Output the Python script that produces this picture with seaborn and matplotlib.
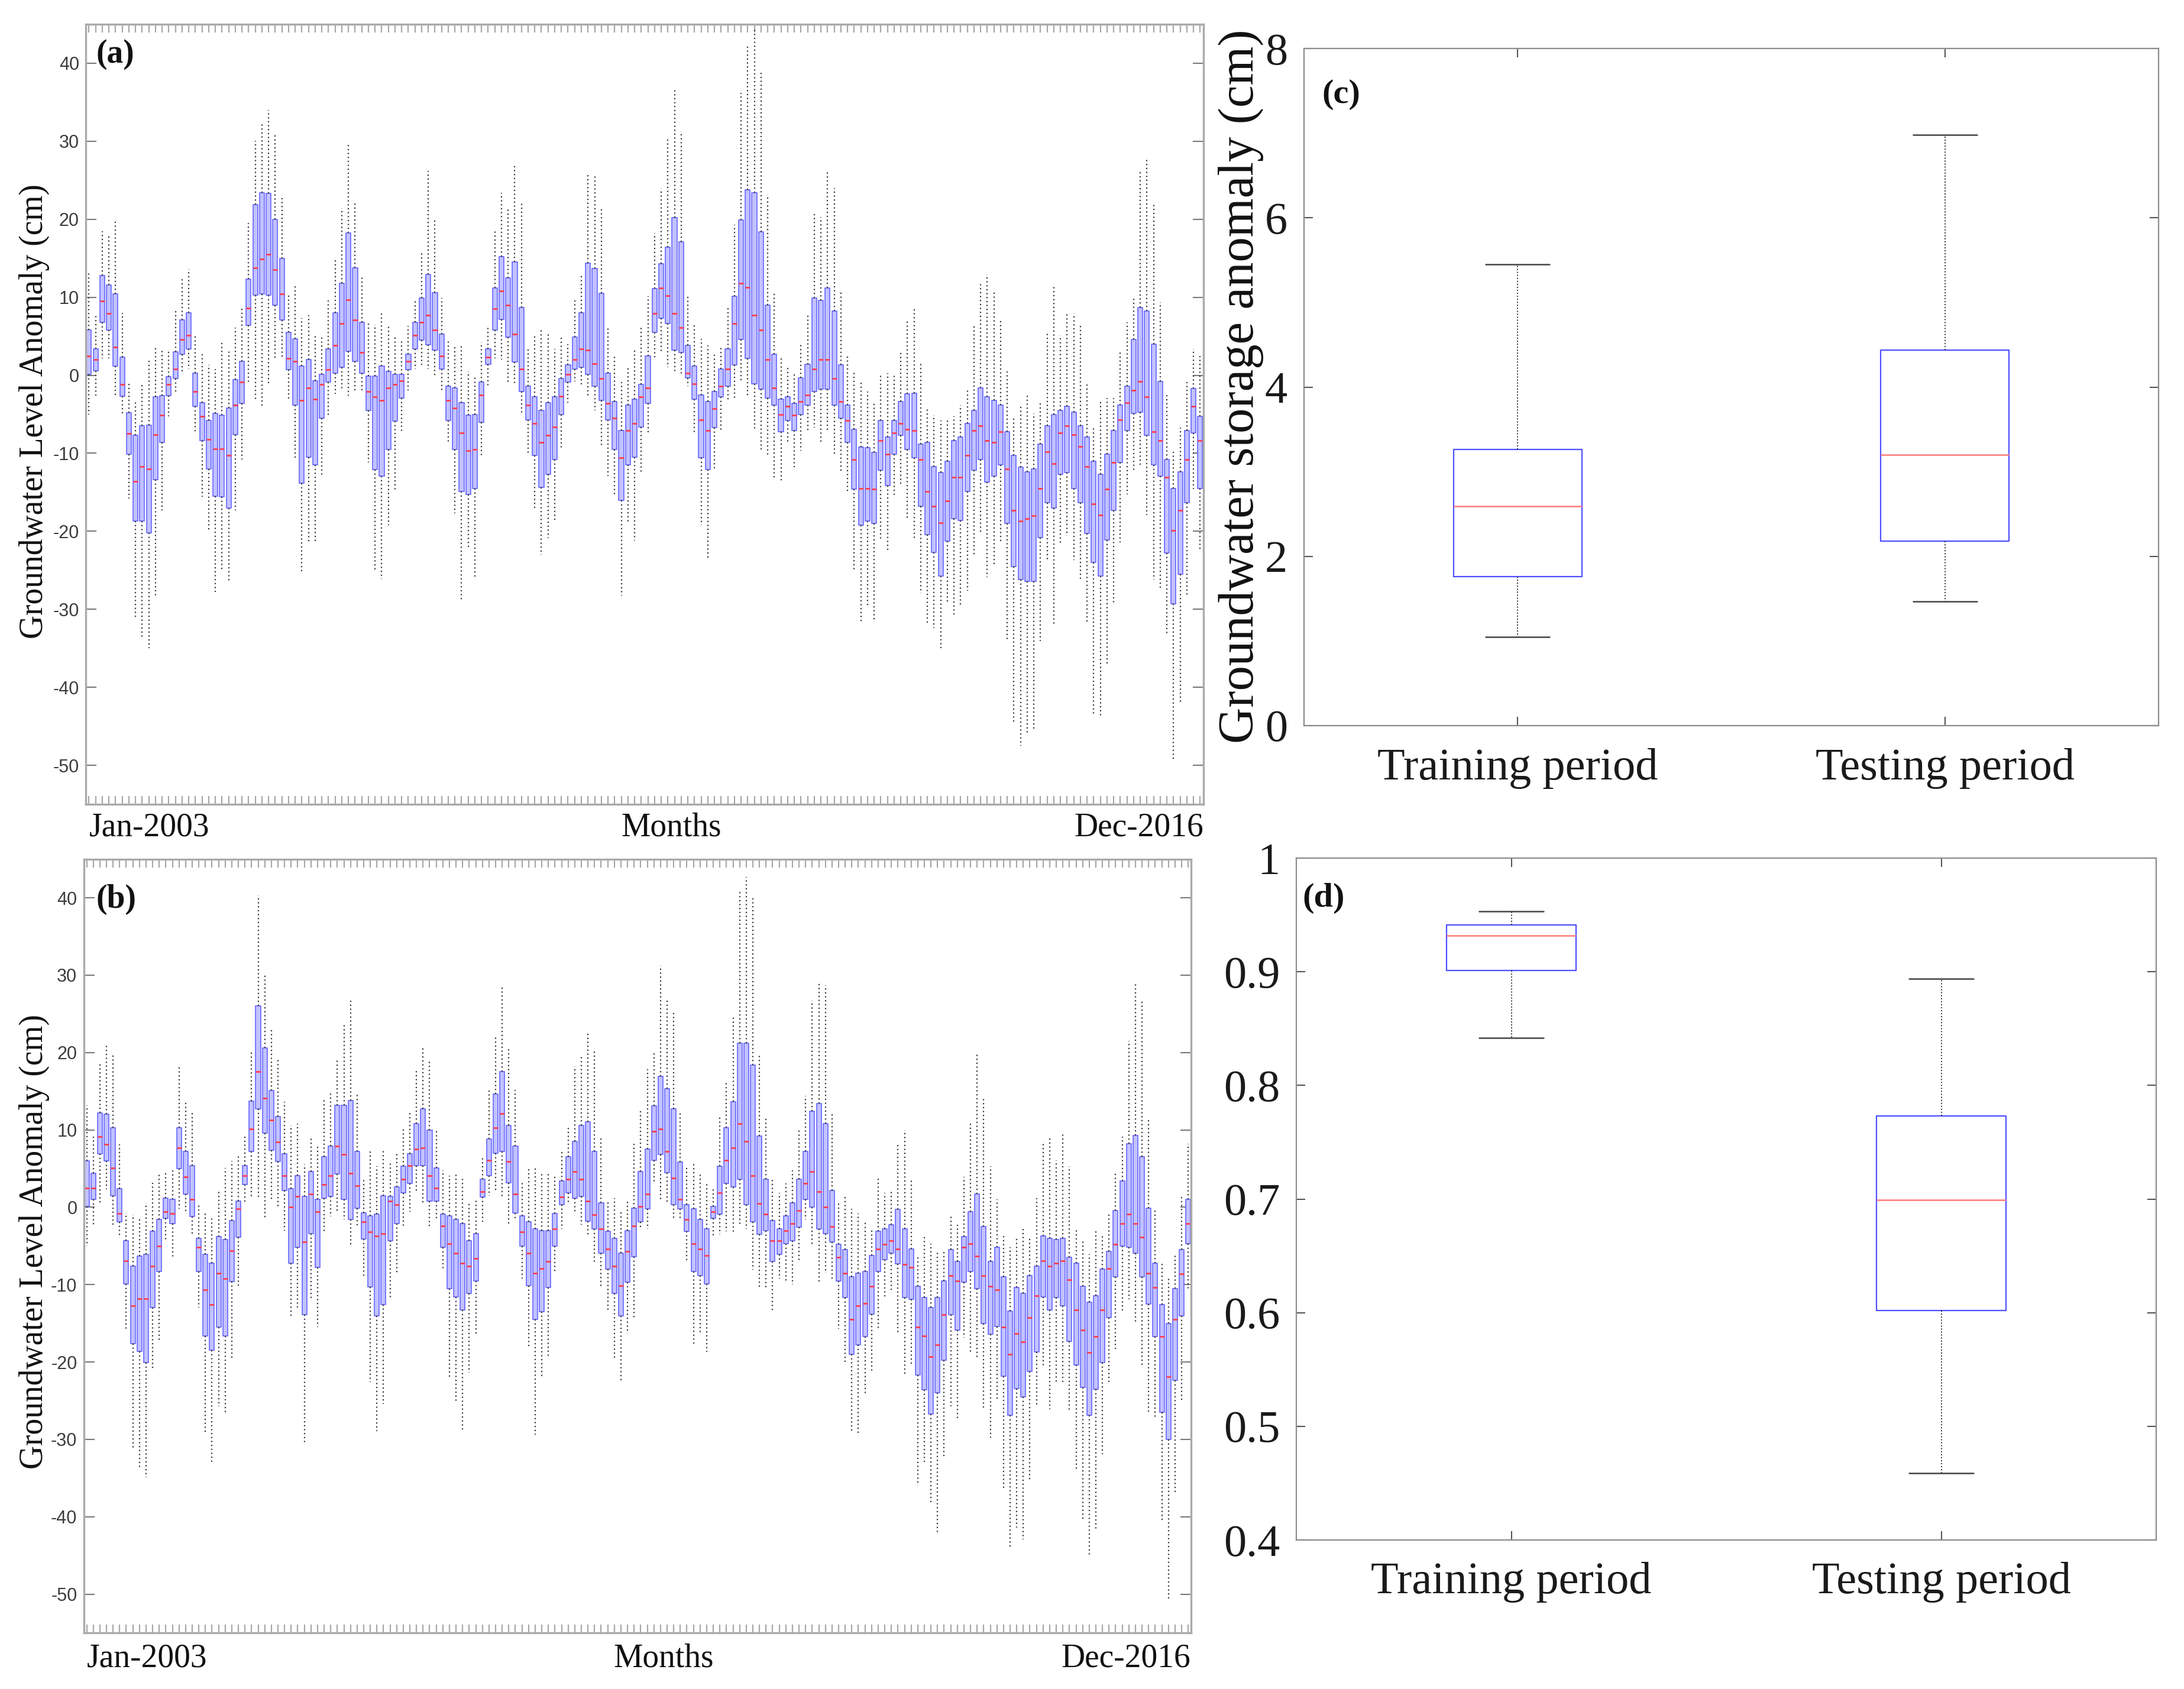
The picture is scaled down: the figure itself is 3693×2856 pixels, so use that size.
import numpy as np
import pandas as pd
import matplotlib
matplotlib.use("Agg")
import matplotlib.pyplot as plt
import seaborn as sns

sns.set_theme(style="white")
plt.rcParams["font.family"] = ["Liberation Serif", "DejaVu Serif"]
plt.rcParams["axes.unicode_minus"] = False

# ---------------- data: panel (a) monthly box statistics (Jan-2003 .. Dec-2016)
a_whi = [13.2, 7.7, 18.5, 17.9, 19.8, 8.0, -0.8, -3.4, -1.2, 2.2, 3.6, 3.4,
         3.2, 8.5, 12.5, 13.6, 5.3, 2.7, 1.3, 0.8, 4.4, 3.2, 6.1, 8.7,
         19.5, 30.1, 32.3, 34.0, 31.0, 22.7, 10.3, 11.6, 7.3, 7.7, 5.1, 5.1,
         9.6, 15.0, 21.4, 29.8, 22.3, 12.7, 6.6, 6.5, 8.2, 6.3, 4.9, 4.7,
         6.3, 9.6, 15.9, 26.2, 20.0, 9.9, 4.4, 3.8, 3.9, 0.5, -0.1, 4.2,
         6.1, 18.6, 23.4, 21.4, 27.0, 22.2, 3.4, 5.1, 5.8, 5.4, 3.4, 5.1,
         4.0, 9.6, 12.9, 26.0, 25.5, 21.5, 6.1, 2.4, -0.9, 1.0, 3.4, 6.3,
         10.1, 18.2, 23.9, 30.5, 36.9, 31.3, 10.1, 6.4, 4.7, 3.8, 2.9, 3.6,
         8.7, 19.3, 36.2, 42.3, 44.5, 39.0, 23.2, 10.5, 2.2, 1.0, 0.3, 4.2,
         7.8, 20.7, 20.3, 26.3, 24.0, 10.8, 2.5, 0.5, -0.9, -2.1, -3.6, 0.1,
         0.3, 0.3, 3.0, 7.2, 8.6, 1.8, -4.3, -5.1, -5.8, -5.7, -5.3, -3.8,
         -1.6, 6.5, 11.8, 12.9, 10.8, 7.0, 0.5, -5.3, -3.8, -2.6, -4.9, -3.3,
         5.5, 11.6, 5.1, 8.0, 7.9, 6.5, -0.9, -6.7, -3.3, -2.9, -2.9, 2.9,
         6.8, 10.1, 26.2, 27.7, 22.1, 9.4, -2.3, -9.8, -6.7, -0.9, 3.4, 2.5]
a_q3 = [5.8, 3.4, 12.8, 11.6, 10.4, 2.3, -4.8, -7.7, -6.5, -6.4, -2.8, -2.6,
        -0.2, 3.0, 7.1, 8.0, 0.3, -3.5, -5.8, -4.9, -5.1, -4.2, -0.6, 1.8,
        12.3, 21.9, 23.4, 23.3, 20.0, 15.0, 5.5, 4.7, 1.2, 2.0, -0.7, 0.1,
        3.4, 8.0, 11.8, 18.2, 13.8, 6.8, -0.1, -0.1, 1.2, 0.5, 0.1, 0.1,
        2.7, 6.8, 9.9, 12.9, 10.6, 5.3, -1.4, -1.6, -3.5, -5.1, -5.0, -0.9,
        3.4, 11.2, 15.2, 12.5, 14.5, 8.7, -1.4, -2.8, -4.5, -3.5, -2.8, -0.4,
        1.3, 4.9, 8.0, 14.4, 13.7, 10.5, 0.3, -3.4, -7.1, -3.8, -3.1, -1.2,
        2.5, 11.1, 14.3, 16.4, 20.2, 17.1, 3.8, 1.2, -2.5, -3.4, -2.1, 0.8,
        3.4, 10.1, 19.9, 23.8, 23.4, 18.4, 9.0, 2.7, -3.1, -2.8, -3.6, -0.3,
        1.4, 9.9, 9.6, 11.2, 8.2, 1.3, -3.8, -6.9, -9.2, -9.3, -9.9, -5.8,
        -7.9, -5.8, -3.4, -2.4, -2.3, -8.8, -8.6, -11.7, -12.5, -11.0, -8.4, -7.9,
        -6.2, -4.5, -1.6, -2.8, -3.2, -3.8, -7.2, -10.3, -11.8, -12.4, -12.0, -8.8,
        -6.5, -5.0, -4.5, -4.0, -4.7, -6.5, -7.9, -11.0, -12.7, -10.1, -7.1, -3.8,
        -1.4, 4.6, 8.7, 8.2, 4.0, -0.8, -10.8, -14.5, -12.4, -7.1, -1.7, -5.3]
a_med = [2.5, 2.0, 9.5, 7.9, 3.6, -1.2, -7.5, -13.6, -11.7, -12.0, -7.6, -5.1,
         -1.2, 0.8, 4.6, 5.1, -2.1, -5.3, -8.2, -9.4, -9.4, -10.3, -3.8, -0.9,
         8.6, 13.8, 14.9, 15.5, 13.5, 10.4, 2.2, 1.8, -3.2, -1.6, -3.1, -1.2,
         0.7, 3.8, 6.6, 9.7, 7.1, 2.9, -2.1, -2.8, -3.2, -1.6, -1.2, -0.7,
         1.8, 5.1, 6.8, 7.7, 5.8, 2.5, -3.2, -4.2, -7.4, -9.7, -9.5, -2.5,
         2.3, 8.5, 10.8, 9.0, 5.3, 0.8, -3.8, -6.2, -8.6, -7.7, -6.6, -2.7,
         0.1, 2.0, 3.4, 3.2, 1.5, -0.4, -3.6, -5.5, -10.6, -7.1, -6.2, -2.8,
         -1.6, 7.9, 11.2, 10.2, 7.9, 6.1, 0.3, -1.1, -5.7, -7.1, -4.3, -1.4,
         0.8, 6.6, 11.8, 11.3, 7.7, 5.8, 2.0, -1.6, -5.0, -4.0, -5.1, -3.4,
         -2.5, 0.8, 2.0, 2.0, -0.4, -3.4, -5.8, -10.8, -14.5, -14.5, -14.6, -8.4,
         -10.1, -7.4, -6.2, -6.9, -7.1, -10.8, -14.9, -16.8, -18.9, -16.1, -13.1, -13.1,
         -10.3, -7.1, -6.5, -8.4, -8.6, -7.2, -12.0, -17.3, -18.7, -18.4, -18.0, -14.5,
         -9.8, -11.3, -7.4, -6.5, -7.6, -9.1, -11.7, -16.5, -17.9, -14.6, -11.2, -5.7,
         -3.5, -1.9, -0.8, -2.8, -7.2, -8.4, -13.1, -19.9, -17.3, -10.8, -4.0, -8.4]
a_q1 = [0.1, 0.6, 6.8, 5.8, 1.2, -2.7, -10.1, -18.7, -18.7, -20.2, -13.4, -8.6,
        -2.6, -0.4, 2.7, 3.4, -4.0, -8.4, -12.0, -15.5, -15.6, -17.0, -7.6, -3.6,
        6.4, 10.3, 10.4, 10.3, 9.0, 7.1, 0.7, -3.8, -13.8, -10.5, -11.5, -5.5,
        -0.9, 0.3, 1.0, 3.1, 1.8, 0.3, -4.5, -12.1, -12.9, -9.5, -5.9, -2.9,
        0.7, 3.4, 4.5, 3.9, 3.2, 0.8, -5.8, -9.5, -14.9, -15.3, -14.5, -6.0,
        1.4, 5.8, 7.2, 4.9, 1.7, -2.1, -5.7, -10.3, -14.4, -12.7, -10.8, -5.0,
        -0.9, 0.8, 1.0, 0.1, -1.4, -3.2, -5.7, -9.5, -16.0, -11.5, -10.5, -6.6,
        -3.6, 5.5, 7.3, 6.6, 3.2, 2.9, -0.3, -3.1, -10.6, -12.1, -6.7, -2.8,
        -1.4, 1.3, 4.6, 2.2, -1.1, -1.8, -2.9, -3.8, -7.2, -5.8, -7.1, -5.0,
        -3.8, -2.1, -1.8, -1.8, -3.8, -5.5, -8.6, -14.6, -19.2, -18.7, -19.0, -12.2,
        -14.1, -10.1, -7.7, -9.5, -10.6, -16.8, -20.4, -22.7, -25.7, -21.3, -18.4, -18.6,
        -14.9, -12.2, -10.8, -13.7, -12.9, -11.5, -19.0, -24.5, -26.2, -26.4, -26.4, -20.8,
        -16.3, -17.0, -12.7, -12.5, -14.5, -16.3, -20.3, -24.0, -25.7, -21.1, -17.3, -11.2,
        -7.1, -4.9, -4.7, -7.7, -11.5, -12.9, -22.8, -29.3, -25.5, -16.3, -7.4, -14.5]
a_wlo = [-5.0, -2.6, 2.2, 2.2, -2.6, -5.0, -15.8, -31.0, -33.8, -35.0, -28.3, -17.3,
         -5.3, -2.1, 0.5, 0.8, -7.2, -15.6, -19.9, -27.8, -24.9, -26.6, -17.3, -10.8,
         -1.1, -3.1, -4.1, -1.2, 2.2, 2.2, -3.1, -10.6, -25.1, -21.4, -21.6, -13.1,
         -5.1, -2.4, -1.7, -2.6, -1.9, -2.1, -11.2, -24.9, -26.1, -19.2, -14.9, -7.2,
         -1.9, 0.8, 1.3, 0.8, -0.1, -2.1, -8.6, -17.7, -28.8, -22.3, -26.1, -10.5,
         -1.4, 2.2, 2.0, -0.9, -1.2, -4.9, -10.1, -17.1, -23.0, -20.9, -18.6, -9.6,
         -3.5, -0.8, -1.2, -2.6, -4.5, -9.1, -12.9, -15.4, -28.2, -19.0, -21.2, -12.5,
         -7.6, 2.2, 2.9, 1.0, 0.3, -0.1, -1.4, -7.4, -19.2, -23.7, -12.2, -7.1,
         -3.3, -3.1, -0.9, -2.6, -7.1, -9.5, -10.5, -13.4, -13.6, -8.8, -11.8, -9.7,
         -7.3, -6.7, -8.6, -7.1, -10.1, -12.5, -15.1, -25.1, -31.8, -29.5, -31.4, -21.1,
         -22.6, -15.6, -13.9, -18.4, -21.1, -27.9, -31.9, -32.4, -35.0, -29.2, -30.7, -29.5,
         -27.6, -23.0, -20.1, -25.9, -24.5, -21.4, -34.1, -44.6, -47.5, -45.8, -45.3, -34.1,
         -23.8, -32.1, -21.8, -20.6, -23.7, -26.4, -31.6, -43.4, -43.7, -37.2, -29.3, -21.4,
         -15.3, -12.2, -11.7, -17.9, -26.2, -27.3, -33.4, -49.5, -42.1, -28.2, -14.6, -22.5]

# ---------------- data: panel (b)
b_whi = [13.2, 9.1, 18.6, 21.2, 19.9, 8.1, -0.7, -1.0, -1.4, 0.6, 3.2, 4.5,
         4.6, 5.1, 18.3, 13.8, 12.4, 0.6, -0.8, -1.1, 2.0, 5.1, 6.0, 6.7,
         9.1, 20.3, 40.3, 30.1, 23.2, 19.4, 13.6, 10.6, 10.8, 5.5, 9.1, 7.9,
         14.1, 14.8, 19.1, 23.6, 26.7, 14.7, 3.8, 7.4, 5.3, 7.4, 5.9, 7.2,
         10.1, 12.2, 17.8, 20.6, 19.1, 9.9, 4.8, 4.1, 4.4, 3.8, 0.5, 1.2,
         6.7, 15.1, 22.3, 28.6, 20.5, 15.2, 3.4, 5.0, 5.3, 4.6, 4.6, 4.1,
         7.4, 10.5, 18.2, 19.6, 22.4, 20.3, 9.1, 0.8, 1.2, -0.6, 0.7, 8.4,
         12.7, 17.8, 20.1, 31.2, 26.7, 25.3, 12.2, 5.1, 5.9, 4.5, 3.0, 2.5,
         11.9, 16.3, 24.6, 41.0, 42.7, 39.9, 19.6, 11.5, 3.6, 1.9, 3.1, 4.8,
         10.1, 14.4, 26.7, 29.1, 28.7, 12.2, 0.6, 1.3, -0.2, -0.8, -1.9, -2.8,
         3.7, 1.9, 2.2, 8.1, 10.0, 3.6, -6.3, -3.7, -4.7, -5.6, -5.6, -0.9,
         -2.3, 3.9, 11.0, 19.8, 14.3, 5.3, 1.0, -3.5, -5.2, -4.0, -2.8, -4.0,
         1.2, 8.4, 9.2, 6.1, 9.4, 5.3, -2.8, -4.2, -6.1, -3.1, -3.5, -0.8,
         4.6, 9.1, 21.5, 29.1, 26.8, 11.6, -0.2, -7.2, -9.2, -6.1, 1.5, 8.2]
b_q3 = [6.0, 4.4, 12.2, 12.0, 10.3, 2.4, -4.3, -7.6, -6.3, -6.1, -3.1, -1.6,
        1.2, 1.0, 10.3, 7.2, 5.4, -4.0, -6.1, -7.2, -3.8, -4.2, -1.7, 0.8,
        5.4, 13.7, 26.0, 20.6, 15.1, 11.7, 6.9, 2.4, 4.1, 1.4, 4.6, 1.0,
        6.5, 7.9, 13.2, 13.2, 13.8, 7.2, -0.7, -1.1, -0.9, 1.5, 1.4, 2.6,
        5.3, 6.9, 10.8, 12.7, 10.0, 5.1, -0.9, -1.1, -1.6, -2.1, -4.3, -3.4,
        3.6, 8.8, 14.6, 17.5, 10.6, 7.9, -1.1, -1.9, -2.8, -3.0, -3.0, -0.8,
        3.4, 6.5, 8.5, 10.6, 11.0, 7.2, 0.6, -3.1, -4.0, -5.9, -3.0, -0.1,
        4.6, 7.5, 13.1, 16.9, 15.3, 12.7, 5.8, 0.3, -0.2, -1.6, -2.8, 0.1,
        5.3, 10.3, 13.6, 21.2, 21.2, 18.4, 9.2, 3.6, -1.7, -2.8, -1.1, 0.6,
        3.6, 7.2, 12.4, 13.4, 10.8, 2.2, -4.8, -5.5, -9.0, -8.5, -8.3, -6.2,
        -3.1, -2.8, -2.3, -0.3, -2.8, -5.4, -10.2, -11.7, -13.0, -11.7, -9.5, -5.5,
        -7.0, -3.8, -0.6, 1.7, -2.5, -7.0, -5.2, -9.0, -13.4, -10.4, -11.1, -8.8,
        -7.6, -3.7, -4.0, -4.2, -4.0, -6.5, -7.2, -10.2, -12.3, -11.4, -8.0, -5.7,
        -0.4, 3.4, 8.2, 9.3, 6.5, -0.1, -7.2, -12.6, -15.0, -10.5, -5.5, 1.0]
b_med = [2.5, 2.5, 9.1, 8.1, 5.1, -0.8, -6.9, -12.7, -11.8, -11.8, -7.6, -5.0,
         -0.6, -0.8, 7.7, 3.9, 1.0, -5.2, -10.7, -12.6, -8.5, -9.2, -5.6, -0.2,
         4.1, 10.1, 17.5, 14.1, 11.3, 8.4, 4.1, 0.0, 1.4, -4.5, 1.7, -0.6,
         2.9, 4.1, 7.9, 6.8, 4.4, 2.8, -1.9, -3.2, -3.7, -3.4, 0.8, 0.3,
         3.6, 5.4, 7.5, 7.7, 4.1, 2.5, -2.4, -4.7, -5.9, -7.2, -7.6, -6.6,
         2.0, 6.1, 10.3, 12.1, 5.9, 1.7, -3.2, -5.9, -8.5, -7.9, -7.0, -2.8,
         1.3, 3.6, 4.6, 3.6, 0.8, -1.0, -2.8, -5.4, -7.6, -10.1, -5.7, -2.4,
         0.1, 1.7, 9.8, 10.1, 7.2, 3.8, 1.0, -1.6, -4.7, -5.4, -6.2, -0.6,
         1.9, 6.1, 7.7, 10.8, 8.5, 4.1, 0.5, -0.9, -4.3, -4.3, -3.0, -2.1,
         -0.4, 3.1, 4.6, 2.0, 0.0, -2.5, -6.5, -8.5, -14.5, -12.7, -12.4, -10.2,
         -5.4, -4.8, -4.3, -5.4, -7.4, -7.8, -15.5, -16.6, -19.3, -17.8, -13.9, -8.8,
         -9.5, -5.2, -4.7, -6.3, -8.8, -10.2, -10.7, -15.5, -19.0, -16.3, -17.4, -14.3,
         -11.4, -6.9, -7.6, -7.2, -6.9, -9.4, -13.3, -15.9, -18.8, -16.7, -13.3, -7.9,
         -4.8, -2.1, -0.9, -2.1, -3.9, -8.5, -10.4, -16.7, -21.9, -14.5, -8.6, -2.1]
b_q1 = [0.1, 1.0, 6.9, 6.0, 1.5, -1.9, -9.9, -17.6, -18.6, -20.1, -13.0, -8.3,
        -1.4, -2.1, 5.0, 1.7, -1.2, -8.3, -16.6, -18.5, -15.5, -16.6, -9.6, -3.9,
        2.9, 7.2, 12.7, 9.6, 7.4, 5.9, 2.2, -7.2, -5.2, -13.9, -3.4, -7.8,
        1.2, 1.4, 4.3, 1.0, -1.6, -0.1, -4.1, -10.3, -14.0, -12.6, -4.3, -2.1,
        1.9, 3.1, 5.4, 5.4, 0.8, 0.8, -5.2, -10.5, -11.6, -13.3, -11.1, -9.5,
        1.3, 4.1, 7.0, 7.2, 3.2, -0.7, -5.0, -10.1, -14.5, -13.5, -10.4, -5.0,
        0.3, 1.9, 1.2, 1.4, -1.8, -2.8, -5.9, -8.0, -11.1, -14.0, -9.7, -6.4,
        -1.9, -0.2, 6.1, 6.8, 4.5, 0.3, -0.2, -3.1, -8.3, -8.8, -9.9, -1.4,
        -0.9, 3.1, 2.6, 3.6, 0.3, -1.9, -3.5, -3.0, -7.0, -6.1, -4.7, -4.3,
        -2.6, 1.0, 0.0, -2.8, -3.4, -4.5, -9.5, -11.7, -19.0, -17.8, -16.7, -13.8,
        -8.3, -6.8, -5.9, -7.3, -11.7, -11.9, -21.7, -23.6, -26.7, -24.0, -19.8, -13.9,
        -15.9, -9.7, -8.3, -10.5, -15.0, -16.4, -15.4, -21.8, -26.9, -23.4, -24.5, -21.2,
        -18.7, -11.6, -13.3, -11.7, -12.7, -17.3, -20.4, -23.3, -26.9, -23.5, -20.1, -14.3,
        -9.0, -5.0, -5.2, -5.9, -9.0, -12.5, -16.7, -26.5, -30.0, -22.4, -14.0, -4.7]
b_wlo = [-5.0, -2.5, 0.6, 2.3, -2.4, -3.7, -15.7, -31.1, -33.6, -34.9, -20.9, -17.3,
         -4.5, -6.4, -0.2, -0.8, -3.4, -13.0, -29.3, -33.1, -25.7, -26.7, -19.8, -10.1,
         0.6, 1.2, 1.2, -1.4, 0.8, 0.0, -3.0, -14.3, -13.0, -30.4, -11.8, -15.5,
         -3.1, -1.2, -0.6, -1.6, -5.0, -2.6, -9.0, -22.6, -28.9, -25.4, -11.8, -8.5,
         -2.5, -0.6, 2.0, 0.6, -2.5, -1.4, -7.9, -22.1, -25.2, -28.8, -21.4, -16.6,
         -1.9, 1.5, 2.0, 1.2, -2.1, -1.6, -9.2, -18.1, -29.4, -21.8, -19.2, -8.5,
         -2.8, 0.3, -0.6, -2.3, -3.7, -7.1, -10.2, -13.3, -19.6, -22.6, -16.3, -14.3,
         -2.8, -2.8, 3.2, 1.0, 0.5, -1.4, -1.4, -6.9, -17.6, -16.2, -18.7, -3.9,
         -3.5, -3.1, -3.5, -2.4, -2.8, -8.1, -10.4, -10.4, -13.6, -9.2, -9.5, -10.0,
         -7.1, -1.6, -4.9, -9.7, -8.5, -9.2, -15.7, -20.0, -29.2, -29.5, -24.3, -21.2,
         -15.9, -11.6, -10.7, -16.4, -21.6, -20.5, -36.0, -32.9, -38.1, -42.2, -32.3, -25.7,
         -27.4, -16.9, -18.7, -19.5, -26.1, -29.8, -25.0, -36.4, -44.0, -41.4, -42.9, -35.4,
         -25.8, -20.7, -26.1, -22.6, -22.9, -26.4, -34.0, -40.5, -45.0, -41.6, -31.9, -22.9,
         -18.3, -13.6, -11.9, -14.9, -20.5, -26.4, -27.4, -40.5, -50.9, -36.9, -25.0, -10.7]

# ---------------- data: panels (c) and (d)
periods = ["Training period", "Testing period"]
c_stats = {"Training period": [1.05, 1.76, 2.59, 3.26, 5.45],
           "Testing period": [1.47, 2.18, 3.20, 4.44, 6.98]}
d_stats = {"Training period": [0.842, 0.901, 0.932, 0.941, 0.953],
           "Testing period": [0.459, 0.602, 0.699, 0.773, 0.894]}

a_yticks = [-50, -40, -30, -20, -10, 0, 10, 20, 30, 40]
c_yticks = [0, 2, 4, 6, 8]
d_yticks = [0.4, 0.5, 0.6, 0.7, 0.8, 0.9, 1.0]
d_ytlabels = ["0.4", "0.5", "0.6", "0.7", "0.8", "0.9", "1"]


def monthly_df(wlo, q1, med, q3, whi):
    rows = []
    for i, vals in enumerate(zip(wlo, q1, med, q3, whi)):
        for v in vals:
            rows.append((i, v))
    return pd.DataFrame(rows, columns=["month", "value"])


def period_df(stats):
    rows = []
    for p in periods:
        for v in stats[p]:
            rows.append((p, v))
    return pd.DataFrame(rows, columns=["period", "value"])


W, H = 3693, 2856
fig = plt.figure(figsize=(W / 100, H / 100), dpi=100)


def rect(l, r, t, b):
    return [l / W, 1 - b / H, (r - l) / W, (b - t) / H]


ax_a = fig.add_axes(rect(145, 2035, 41, 1360))
ax_b = fig.add_axes(rect(141.5, 2013.6, 1452.6, 2761))
ax_c = fig.add_axes(rect(2205, 3650, 82, 1227))
ax_d = fig.add_axes(rect(2192, 3646, 1451, 2604))

BOX_FILL = "#c2c2ff"
BOX_EDGE = "#5c5cff"


def monthly_panel(ax, df, label, xlim, lab_y, letter_xy):
    sns.boxplot(data=df, x="month", y="value", ax=ax, whis=(0, 100), width=0.72,
                fill=True, color=BOX_FILL, linecolor=BOX_EDGE, linewidth=1.1,
                saturation=1, fliersize=0,
                boxprops=dict(facecolor=BOX_FILL, edgecolor=BOX_EDGE, linewidth=1.1),
                whiskerprops=dict(color="#3a3a3a", linestyle=(0, (1.0, 2.0)), linewidth=1.6),
                capprops=dict(linewidth=0),
                medianprops=dict(color="#ff4050", linewidth=2.0))
    ax.set_xlim(*xlim)
    ax.set_ylim(-55, 45)
    ax.set_xlabel("")
    ax.set_ylabel("")
    ax.set_xticks(range(168))
    ax.set_xticklabels([""] * 168)
    ax.set_yticks(a_yticks)
    ax.set_yticklabels([str(t) for t in a_yticks], family="Liberation Sans",
                       fontsize=22, color="#3c3c3c")
    ax.tick_params(axis="y", direction="in", left=True, right=True, length=13,
                   width=1.5, color="#7a7a7a", pad=8)
    ax.tick_params(axis="x", direction="in", bottom=True, top=True, length=10,
                   width=1.6, color="#a8a8a8")
    for s in ax.spines.values():
        s.set_visible(True)
        s.set_color("#aaaaaa")
        s.set_linewidth(2.4)
    tr = ax.get_xaxis_transform()
    ax.text(0, lab_y, "Jan-2003", transform=tr, ha="left", va="baseline",
            fontsize=40, color="#111111")
    ax.text(87.5, lab_y, "Months", transform=tr, ha="center", va="baseline",
            fontsize=40, color="#111111")
    ax.text(1.0, lab_y, "Dec-2016", transform=ax.transAxes, ha="right",
            va="baseline", fontsize=40, color="#111111")
    ax.text(letter_xy[0], letter_xy[1], label, transform=ax.transAxes, ha="left",
            va="top", fontsize=40, fontweight="bold", color="#111111")


monthly_panel(ax_a, monthly_df(a_wlo, a_q1, a_med, a_q3, a_whi), "(a)",
              (-0.48, 167.5), -0.0402, (0.0093, 0.981))
monthly_panel(ax_b, monthly_df(b_wlo, b_q1, b_med, b_q3, b_whi), "(b)",
              (-0.45, 167.4), -0.0443, (0.0112, 0.968))

fig.text(58 / W, 1 - 696 / H, "Groundwater Level Anomaly (cm)", rotation=90,
         ha="center", va="center", fontsize=40, color="#111111")
fig.text(58 / W, 1 - 2100 / H, "Groundwater Level Anomaly (cm)", rotation=90,
         ha="center", va="center", fontsize=40, color="#111111")


def period_panel(ax, df, label, ylim, yticks, ytlabels, letter_xy):
    sns.boxplot(data=df, x="period", y="value", order=periods, ax=ax,
                whis=(0, 100), width=0.30, fill=False, color="#4f4fff",
                linewidth=1.5, fliersize=0, capwidths=0.15,
                boxprops=dict(color="#4f4fff", linewidth=1.6),
                whiskerprops=dict(color="#333333", linestyle=(0, (1.2, 1.6)), linewidth=1.3),
                capprops=dict(color="#444444", linewidth=1.8, linestyle="-"),
                medianprops=dict(color="#ff7a7a", linewidth=1.8))
    ax.set_xlim(-0.5, 1.5)
    ax.set_ylim(*ylim)
    ax.set_xlabel("")
    ax.set_ylabel("")
    ax.set_yticks(yticks)
    ax.set_yticklabels(ytlabels, fontsize=55, color="#1a1a1a")
    ax.set_xticks([0, 1])
    ax.set_xticklabels(periods, fontsize=55, color="#1a1a1a")
    ax.tick_params(axis="y", direction="in", left=True, right=True, length=11,
                   width=1.5, color="#555555", pad=20)
    ax.tick_params(axis="x", direction="in", bottom=True, top=True, length=11,
                   width=1.5, color="#555555", pad=27)
    for s in ax.spines.values():
        s.set_visible(True)
        s.set_color("#8c8c8c")
        s.set_linewidth(1.6)
    ax.text(letter_xy[0], letter_xy[1], label, transform=ax.transAxes, ha="left",
            va="top", fontsize=42, fontweight="bold", color="#111111")


period_panel(ax_c, period_df(c_stats), "(c)", (0, 8), c_yticks,
             [str(t) for t in c_yticks], (0.021, 0.955))
period_panel(ax_d, period_df(d_stats), "(d)", (0.4, 1.0), d_yticks, d_ytlabels,
             (0.007, 0.964))

fig.text(2098 / W, 1 - 653 / H, "Groundwater storage anomaly (cm)", rotation=90,
         ha="center", va="center", fontsize=61, color="#111111")

fig.savefig("out.png", dpi=100, facecolor="white")
